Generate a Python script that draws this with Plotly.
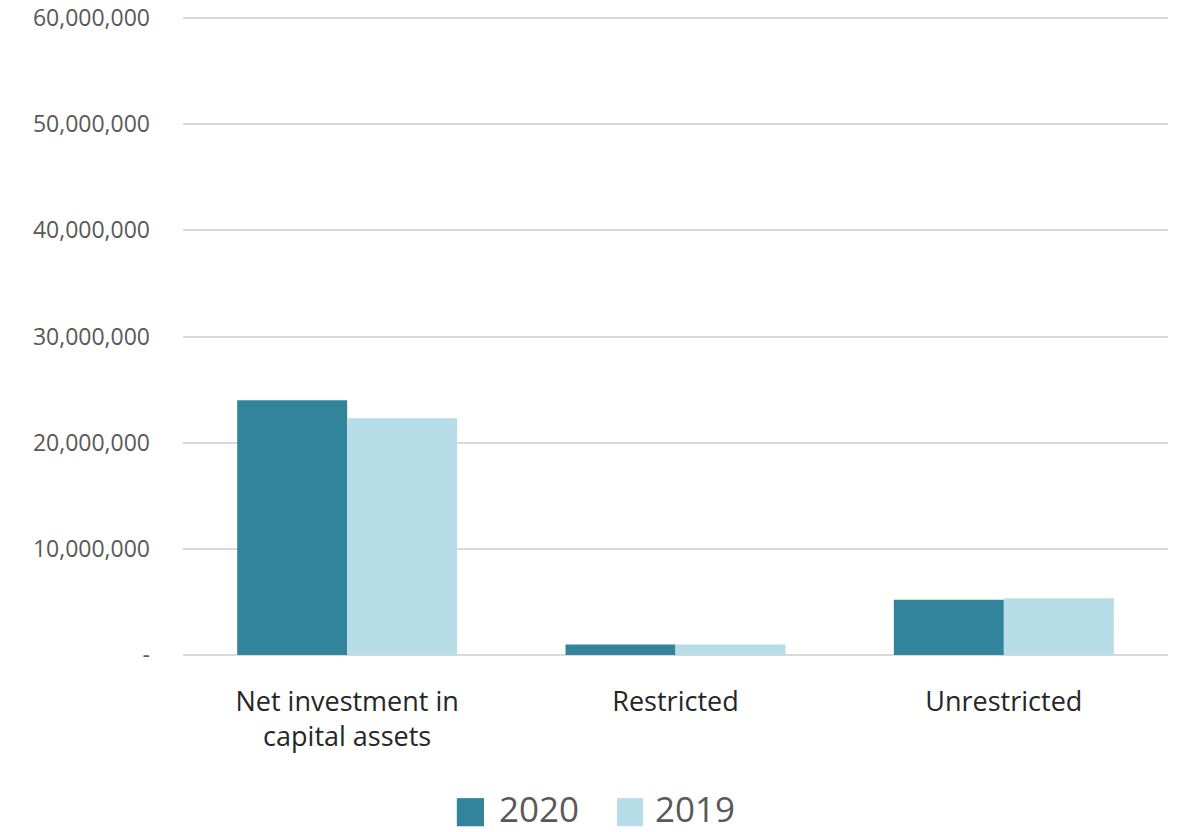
import plotly.graph_objects as go

categories = ["Net investment in<br>capital assets", "Restricted", "Unrestricted"]
series_names = ["2020", "2019"]
values_2020 = [24_000_000, 1_000_000, 5_200_000]
values_2019 = [22_300_000, 1_000_000, 5_350_000]
tick_values = [0, 10_000_000, 20_000_000, 30_000_000, 40_000_000, 50_000_000, 60_000_000]
tick_labels = ["-", "10,000,000", "20,000,000", "30,000,000", "40,000,000", "50,000,000", "60,000,000"]

colors = ["#31849B", "#B7DDE8"]
font_family = "'Open Sans', sans-serif"

fig = go.Figure()
for name, vals, col in zip(series_names, [values_2020, values_2019], colors):
    fig.add_trace(go.Bar(name=name, x=categories, y=vals, marker_color=col,
                         marker_line_width=0, showlegend=False))

# Legend drawn below the plot area with large square swatches
swatches = [(0.278, 0.3056, 0.319), (0.4406, 0.467, 0.477)]
for (sx0, sx1, tx), name, col in zip(swatches, series_names, colors):
    fig.add_shape(type="rect", xref="paper", yref="paper", x0=sx0, x1=sx1,
                  y0=-0.268, y1=-0.224, fillcolor=col, line_width=0)
    fig.add_annotation(xref="paper", yref="paper", x=tx, y=-0.240, text=name,
                       showarrow=False, xanchor="left", yanchor="middle",
                       font=dict(size=35, color="#595959", family=font_family))

fig.update_layout(
    barmode="group",
    bargap=0.33,
    bargroupgap=0,
    width=1183,
    height=832,
    margin=dict(l=183, r=15, t=16, b=177),
    plot_bgcolor="white",
    paper_bgcolor="white",
    font=dict(family=font_family, color="#595959"),
    showlegend=False,
    yaxis=dict(range=[0, 60_200_000], tickvals=tick_values, ticktext=tick_labels,
               showgrid=True, gridcolor="#D9D9D9", gridwidth=2,
               zeroline=True, zerolinecolor="#D9D9D9", zerolinewidth=2,
               tickfont=dict(size=23, color="#595959"), ticks="",
               ticklabelstandoff=32, showline=False, automargin=False),
    xaxis=dict(tickfont=dict(size=27, color="#262626"), showline=False, ticks="",
               ticklabelstandoff=28, automargin=False),
)

fig.write_html("out.html")
